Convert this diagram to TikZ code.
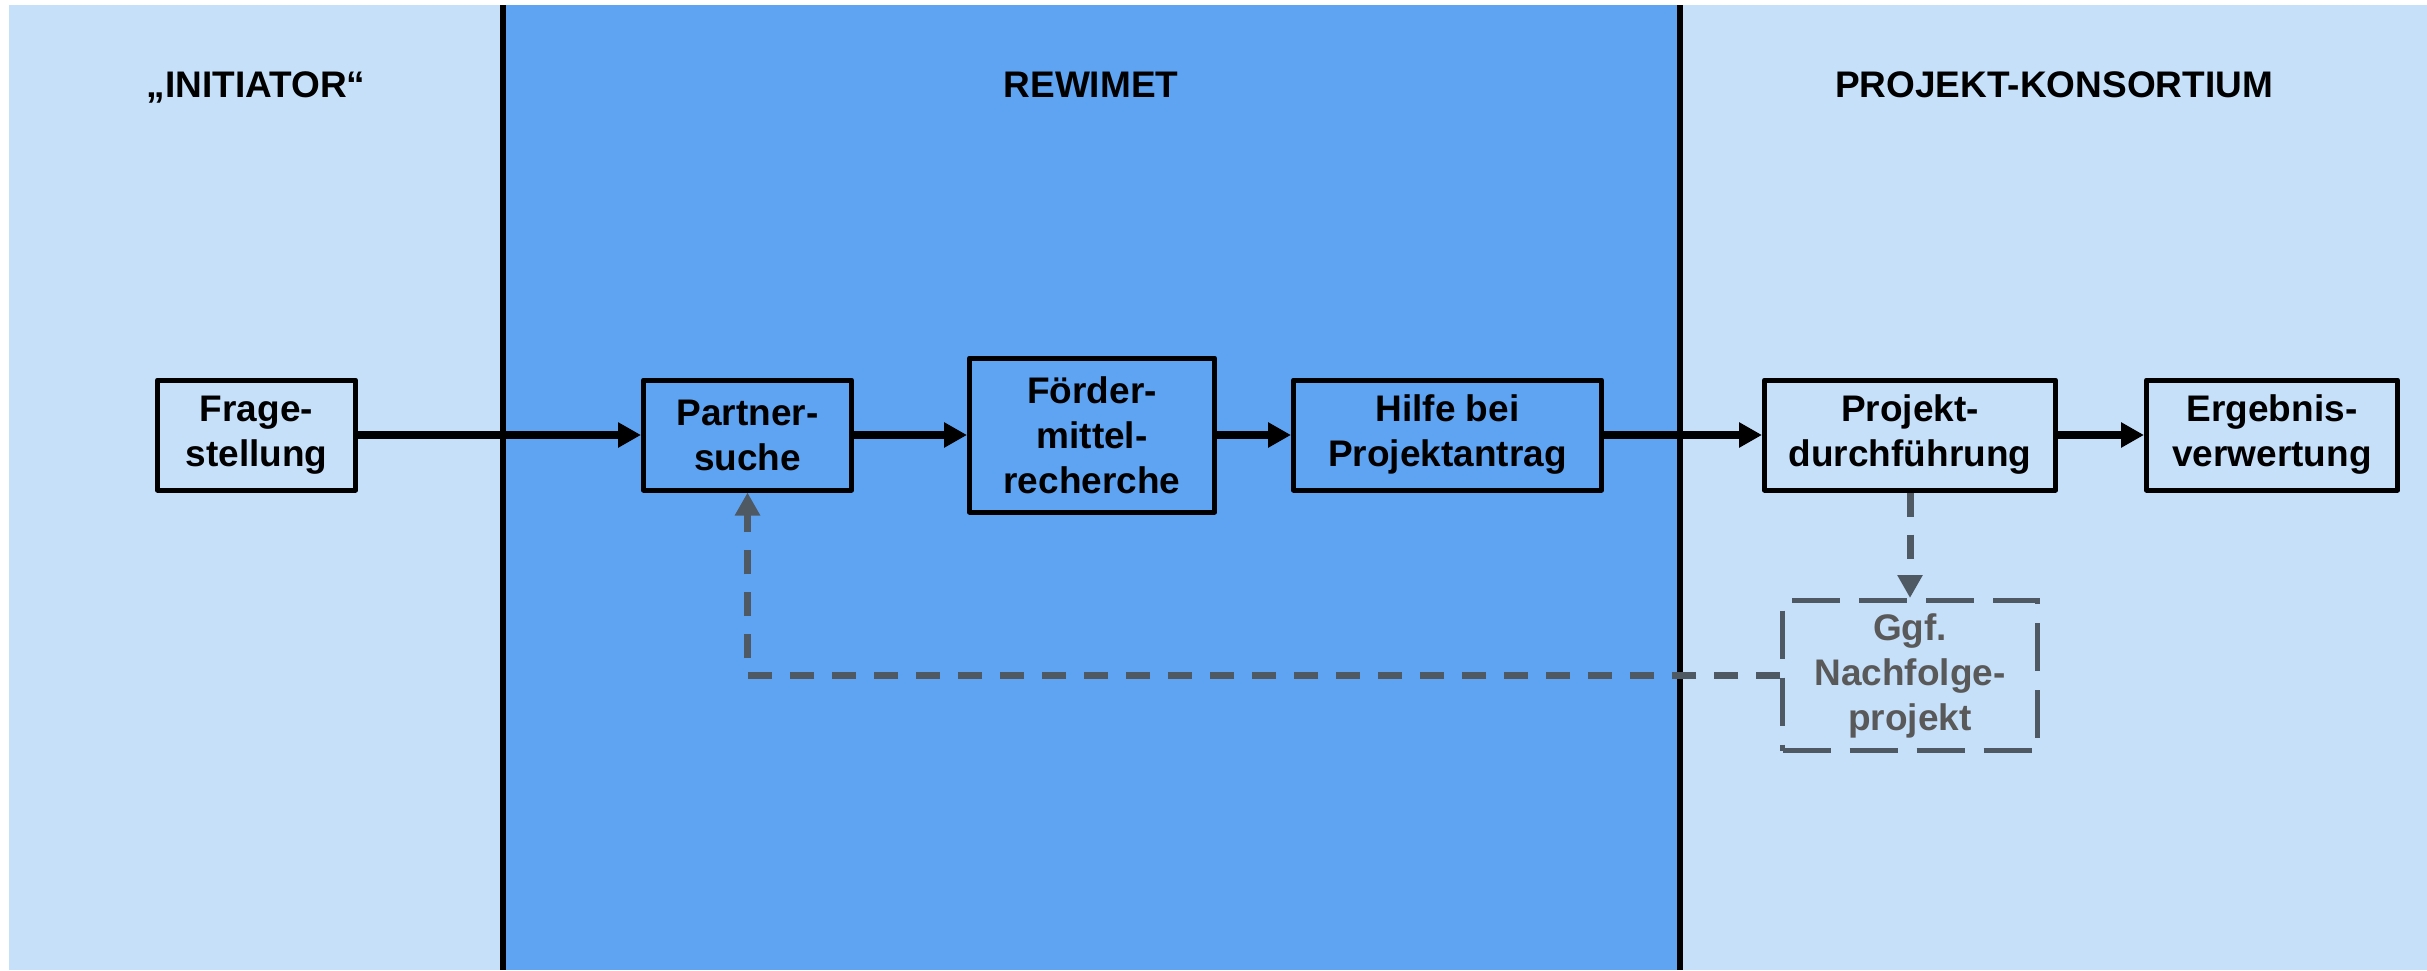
\documentclass[tikz,border=0pt]{standalone}
\usepackage{fontspec}
\setmainfont{Liberation Sans}
\usetikzlibrary{arrows.meta}
\definecolor{lightlane}{HTML}{C6E0FA}
\definecolor{darklane}{HTML}{5EA4F2}
\definecolor{dashgray}{HTML}{4F5964}
\definecolor{textgray}{HTML}{595959}
\begin{document}
\begin{tikzpicture}[x=0.5pt,y=-0.5pt,
  boxtext/.style={font=\bfseries\fontsize{18.5}{22.5}\selectfont, align=center},
  procbox/.style={boxtext, draw=black, line width=2.5pt, line join=round, inner sep=0pt},
  optbox/.style={boxtext, draw=dashgray, text=textgray, line width=2.5pt, dash pattern=on 24pt off 9.5pt, inner sep=0pt},
  header/.style={boxtext, anchor=base},
  flow/.style={draw=black, line width=4pt, -{Triangle[length=11.5pt,width=12pt]}},
  optflow/.style={draw=dashgray, line width=3.5pt, dash pattern=on 12pt off 9pt, -{Triangle[length=11.5pt,width=12pt]}},
  lanesep/.style={draw=black, line width=3pt}
]
\useasboundingbox (0,0) rectangle (2427,970);
% backgrounds
\fill[white] (0,0) rectangle (2427,970);
\fill[lightlane] (9,5) rectangle (2427,970);
\fill[darklane] (503,5) rectangle (1680,970);
\coordinate (s1top) at (503,5);
\coordinate (s1bot) at (503,970);
\coordinate (s2top) at (1680,5);
\coordinate (s2bot) at (1680,970);
\draw[lanesep] (s1top) -- (s1bot);
\draw[lanesep] (s2top) -- (s2bot);
% headers
\node[header] (h1) at (256,97) {„INITIATOR“};
\node[header] (h2) at (1091,97) {REWIMET};
\node[header] (h3) at (2054,97) {PROJEKT-KONSORTIUM};
% boxes
\node[procbox, fill=lightlane, minimum width=99pt, minimum height=55pt] (frage) at (256.5,435) {Frage-\\stellung};
\node[procbox, fill=darklane, minimum width=104pt, minimum height=55pt] (partner) at (747.5,435) {Partner-\\suche};
\node[procbox, fill=darklane, minimum width=122.5pt, minimum height=77pt] (foerder) at (1092,435) {Förder-\\mittel-\\recherche};
\node[procbox, fill=darklane, minimum width=154pt, minimum height=55pt] (hilfe) at (1447.5,435) {Hilfe bei\\Projektantrag};
\node[procbox, fill=lightlane, minimum width=145.5pt, minimum height=55pt] (projekt) at (1910,435) {Projekt-\\durchführung};
\node[procbox, fill=lightlane, minimum width=125.5pt, minimum height=55pt] (ergebnis) at (2272,435) {Ergebnis-\\verwertung};
\node[optbox, fill=lightlane, minimum width=127.5pt, minimum height=75pt] (ggf) at (1910,675.5) {Ggf.\\Nachfolge-\\projekt};
% flows
\draw[flow] (frage.east) -- (partner.west);
\draw[flow] (partner.east) -- (foerder.west);
\draw[flow] (foerder.east) -- (hilfe.west);
\draw[flow] (hilfe.east) -- (projekt.west);
\draw[flow] (projekt.east) -- (ergebnis.west);
\draw[optflow] (projekt.south) -- (ggf.north);
\draw[optflow] (ggf.west) -| (partner.south);
\end{tikzpicture}
\end{document}
